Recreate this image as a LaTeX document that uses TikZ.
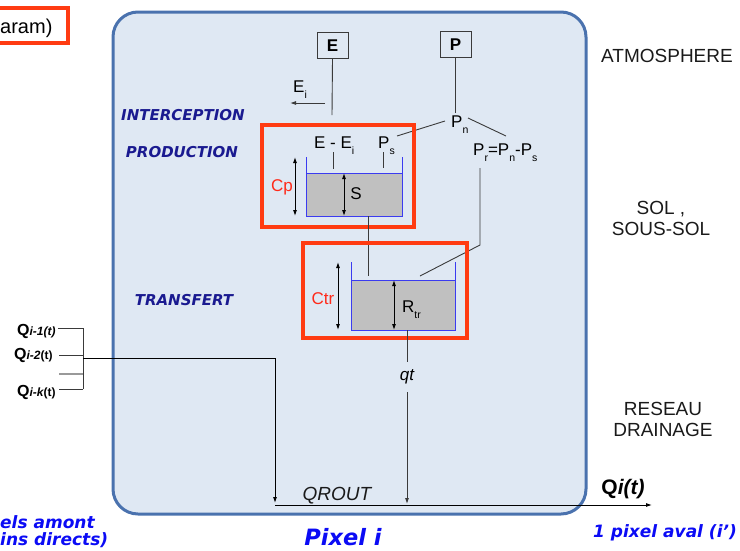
\documentclass[tikz,border=0pt]{standalone}
\usepackage{fontspec}
\setmainfont{Liberation Sans}
\newfontfamily\vfont{DejaVu Sans}
\usetikzlibrary{arrows.meta}
\definecolor{boxfill}{HTML}{DFE8F3}
\definecolor{boxline}{HTML}{4A72AE}
\definecolor{redbox}{HTML}{FF3B12}
\definecolor{navy}{HTML}{1A1A90}
\definecolor{vivblue}{HTML}{0B0BF5}
\definecolor{resgray}{HTML}{C0C0C0}
\definecolor{resblue}{HTML}{3B3BF0}
\definecolor{lbl}{HTML}{1A1A1A}
\definecolor{lnk}{HTML}{3A3A3A}
\definecolor{redtxt}{HTML}{FF2A1A}
\newcommand\lowsub[1]{\raisebox{-0.75ex}{\fontsize{10.5}{10.5}\selectfont #1}}
\newcommand\fsz[1]{\fontsize{#1}{#1}\selectfont}
\begin{document}
\begin{tikzpicture}[x=1pt,y=-1pt,
  lk/.style={draw=lnk,line width=0.9pt},
  tip/.style={lk,-{Latex[length=6pt,width=4pt]}},
  dtip/.style={draw=black,line width=0.9pt,{Latex[length=6pt,width=4pt]}-{Latex[length=6pt,width=4pt]}},
  srcbox/.style={draw=lnk,fill=boxfill,line width=0.9pt,minimum width=31pt,minimum height=26pt,inner sep=0pt,font=\fsz{17}\bfseries},
  lab/.style={inner sep=0pt,text=black,font=\fsz{17}},
  side/.style={inner sep=0pt,text=lbl,font=\fsz{19},align=center},
  navylab/.style={inner sep=0pt,text=navy,font=\vfont\fsz{15}\bfseries\itshape},
  bluelab/.style={inner sep=0pt,text=vivblue,font=\vfont\fsz{17}\bfseries\itshape},
  redlab/.style={inner sep=0pt,text=redtxt,font=\fsz{17}},
  redframe/.style={draw=redbox,line width=4pt},
  reswall/.style={draw=resblue,line width=0.9pt},
  qlab/.style={inner sep=0pt,text=black,anchor=base west}]
\useasboundingbox (0,0) rectangle (740,550);
\clip (0,0) rectangle (740,550);

% main pixel box
\draw[boxline,line width=3pt,fill=boxfill,rounded corners=25pt] (113,12) rectangle (586,514);

% top-left cut label
\draw[redframe] (-20,8) rectangle (68,43);
\node[qlab,font=\fsz{20}] (param) at (0,33) {aram)};

% sources
\node[srcbox] (E) at (332.5,45.5) {E};
\node[srcbox] (P) at (455.5,44.5) {P};

% E / Ei
\coordinate (Eend) at (332,115);
\draw[lk] (E.south) -- (Eend);
\coordinate (eia) at (325,103);
\coordinate (eib) at (290,103);
\draw[tip] (eia) -- (eib);
\node[lab,anchor=base west] (Ei) at (293,92) {E\lowsub{i}};

% P / Pn
\node[lab,anchor=base west] (Pn) at (451,127) {P\lowsub{n}};
\draw[lk] (P.south) -- (P.south |- 0,113);
\coordinate (pnl1) at (445,121); \coordinate (pnl2) at (397,136);
\coordinate (pnr1) at (468,118); \coordinate (pnr2) at (506,136);
\draw[lk] (pnl1) -- (pnl2);
\draw[lk] (pnr1) -- (pnr2);
\node[lab,anchor=base west] (Pr) at (473,155) {P\lowsub{r}=P\lowsub{n}-P\lowsub{s}};

% production box
\draw[redframe] (262,125) rectangle (414,227);
\fill[resgray] (306,173) rectangle (402,216);
\draw[reswall] (306,157) -- (306,216) -- (402,216) -- (402,157);
\draw[reswall] (306,173) -- (402,173);
\node[lab,anchor=base west] (EEi) at (314,148) {E - E\lowsub{i}};
\node[lab,anchor=base west] (Ps) at (378,148) {P\lowsub{s}};
\coordinate (eei1) at (333,152); \coordinate (eei2) at (333,169);
\coordinate (ps1) at (383,152); \coordinate (ps2) at (383,168);
\draw[lk] (eei1) -- (eei2);
\draw[lk] (ps1) -- (ps2);
\coordinate (cp1) at (295,157); \coordinate (cp2) at (295,216);
\draw[dtip] (cp1) -- (cp2);
\node[redlab] (Cp) at (282,187) {Cp};
\coordinate (s1) at (344,173); \coordinate (s2) at (344,216);
\draw[dtip] (s1) -- (s2);
\node[lab] (S) at (356,194) {S};

% links to transfer
\coordinate (sb) at (368,216); \coordinate (st) at (368,276);
\draw[lk] (sb) -- (st);
\coordinate (pr1) at (480,168); \coordinate (pr2) at (480,245); \coordinate (pr3) at (420,276);
\draw[lk] (pr1) -- (pr2) -- (pr3);

% transfer box
\draw[redframe] (303,243) rectangle (467,338);
\fill[resgray] (351,280) rectangle (455,330);
\draw[reswall] (351,262) -- (351,330) -- (455,330) -- (455,262);
\draw[reswall] (351,280) -- (455,280);
\coordinate (ct1) at (338,262); \coordinate (ct2) at (338,330);
\draw[dtip] (ct1) -- (ct2);
\node[redlab] (Ctr) at (323,299) {Ctr};
\coordinate (r1) at (394,280); \coordinate (r2) at (394,330);
\draw[dtip] (r1) -- (r2);
\node[lab,anchor=base west] (Rtr) at (402,312) {R\lowsub{tr}};

% qt
\node[lab,font=\fsz{17}\itshape] (qt) at (407,377) {qt};
\coordinate (q0) at (407,330);
\coordinate (qa) at (407,362);
\draw[lk] (q0) -- (qa);
\coordinate (qb) at (407,504);
\draw[tip] (qt.south |- 0,392) -- (qb);

% QROUT axis
\coordinate (ax0) at (275,505);
\coordinate (ax1) at (652,505);
\draw[tip,draw=black] (ax0) -- (ax1);
\node[inner sep=0pt,text=lbl,font=\fsz{19}\itshape] (qrout) at (337,496) {QROUT};
\node[inner sep=0pt,text=black,font=\fsz{21}\bfseries] (Qi) at (623,489) {Q\textit{i(t)}};

% upstream inputs
\node[qlab] (Q1) at (17,335) {\fsz{16}\bfseries Q\fsz{12}\itshape i-1(t)};
\node[qlab] (Q2) at (14,359) {\fsz{16}\bfseries Q\fsz{12}\itshape i-2\upshape(t)};
\node[qlab] (Qk) at (17,396) {\fsz{16}\bfseries Q\fsz{12}\itshape i-k\upshape(t)};
\coordinate (j1) at (83,328); \coordinate (j2) at (83,355);
\coordinate (jg) at (83,374); \coordinate (jk) at (83,389);
\coordinate (jm) at (83,358);
\draw[lk] (58,328) -- (j1);
\draw[lk] (59,355) -- (j2);
\draw[draw=gray!80,line width=1.5pt] (59,374) -- (jg);
\draw[lk] (59,389) -- (jk);
\draw[lk] (j1) -- (jk);
\coordinate (corner) at (275,358);
\coordinate (down) at (275,503);
\draw[tip,draw=black] (jm) -- (corner) -- (down);

% layer labels
\node[navylab] (ic) at (183,115) {INTERCEPTION};
\node[navylab] (pr) at (182,152) {PRODUCTION};
\node[navylab] (tr) at (184,300) {TRANSFERT};

\node[side] (atm) at (667,56) {ATMOSPHERE};
\node[side] (sol) at (661,218) {SOL ,\\[2pt]SOUS-SOL};
\node[side] (res) at (663,419.5) {RESEAU\\[2pt]DRAINAGE};

% bottom labels
\node[bluelab,font=\vfont\fsz{22.5}\bfseries\itshape] (pix) at (343,537) {Pixel i};
\node[bluelab] (aval) at (665,533) {1 pixel aval (i’)};
\node[bluelab,anchor=west] (am1) at (0,522) {els amont};
\node[bluelab,anchor=west] (am2) at (0,540) {ins directs)};
\end{tikzpicture}
\end{document}
